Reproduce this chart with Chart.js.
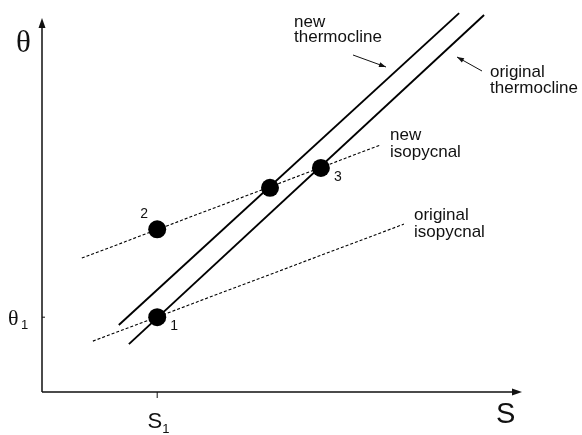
<!DOCTYPE html>
<html>
<head>
<meta charset="utf-8">
<script src="https://cdn.jsdelivr.net/npm/chart.js@4.4.0/dist/chart.umd.min.js"></script>
<style>
  html, body { margin: 0; padding: 0; background: #fff; }
</style>
</head>
<body>
<canvas id="tsChart" width="582" height="435"></canvas>
<script>
// points 1, 2, (unlabelled mid point), 3
const pointS = [2.4, 2.4, 4.75, 5.81];
const pointTheta = [2.0, 4.35, 5.46, 5.99];
const pointNames = ['1', '2', '', '3'];

const origThermoS = [1.81, 9.21];
const origThermoTheta = [1.28, 10.08];
const newThermoS = [1.60, 8.69];
const newThermoTheta = [1.79, 10.13];

const origIsoS = [1.06, 7.54];
const origIsoTheta = [1.36, 4.49];
const newIsoS = [0.83, 7.04];
const newIsoTheta = [3.58, 6.60];

const xTickValues = [2.4];
const xTickNames = ['S'];
const xTickSubs = ['1'];
const yTickValues = [2.0];
const yTickNames = ['θ'];
const yTickSubs = ['1'];

const toXY = (xs, ys) => xs.map((x, i) => ({ x: x, y: ys[i] }));

const SANS = '"Liberation Sans", Arial, Helvetica, sans-serif';
const SERIF = '"Liberation Serif", "Times New Roman", serif';

function arrowHead(ctx, x0, y0, x1, y1, len, half) {
    const a = Math.atan2(y1 - y0, x1 - x0);
    ctx.beginPath();
    ctx.moveTo(x1, y1);
    ctx.lineTo(x1 - len * Math.cos(a) + half * Math.sin(a), y1 - len * Math.sin(a) - half * Math.cos(a));
    ctx.lineTo(x1 - len * Math.cos(a) - half * Math.sin(a), y1 - len * Math.sin(a) + half * Math.cos(a));
    ctx.closePath();
    ctx.fill();
}

function arrow(ctx, x0, y0, x1, y1) {
    ctx.beginPath();
    ctx.moveTo(x0, y0);
    ctx.lineTo(x1, y1);
    ctx.stroke();
    arrowHead(ctx, x0, y0, x1, y1, 7, 2.5);
}

// axes, ticks and all the text
const decorations = {
    id: 'decorations',
    afterDraw(chart) {
        const ctx = chart.ctx;
        const xs = chart.scales.x, ys = chart.scales.y;
        const x0 = xs.getPixelForValue(0), x1 = xs.getPixelForValue(10);
        const y0 = ys.getPixelForValue(0), y1 = ys.getPixelForValue(10);
        ctx.save();
        ctx.strokeStyle = '#111';
        ctx.fillStyle = '#111';
        ctx.lineWidth = 1.5;

        ctx.beginPath();
        ctx.moveTo(x0, y0);
        ctx.lineTo(x0, y1 + 4);
        ctx.moveTo(x0, y0);
        ctx.lineTo(x1 - 4, y0);
        ctx.stroke();
        arrowHead(ctx, x0, y0, x0, y1, 10, 3.5);
        arrowHead(ctx, x0, y0, x1, y0, 10, 3.5);

        // ticks
        ctx.lineWidth = 1;
        ctx.textBaseline = 'alphabetic';
        xTickValues.forEach((v, i) => {
            const px = xs.getPixelForValue(v);
            ctx.beginPath();
            ctx.moveTo(px, y0);
            ctx.lineTo(px, y0 + 6);
            ctx.stroke();
            ctx.font = '22px ' + SANS;
            ctx.textAlign = 'right';
            ctx.fillText(xTickNames[i], px + 5, 428);
            ctx.font = '13px ' + SANS;
            ctx.textAlign = 'left';
            ctx.fillText(xTickSubs[i], px + 5, 433);
        });
        yTickValues.forEach((v, i) => {
            const py = ys.getPixelForValue(v);
            ctx.beginPath();
            ctx.moveTo(x0, py);
            ctx.lineTo(x0 + 3, py);
            ctx.stroke();
            ctx.font = '22px ' + SERIF;
            ctx.textAlign = 'left';
            ctx.fillText(yTickNames[i], 8, py + 8);
            ctx.font = '13px ' + SANS;
            ctx.fillText(yTickSubs[i], 21, py + 12);
        });

        // axis titles
        ctx.textAlign = 'left';
        ctx.font = '31px ' + SERIF;
        ctx.fillText('θ', 16, 52);
        ctx.font = '29px ' + SANS;
        ctx.fillText('S', 496, 423);

        // point numbers
        const meta = chart.getDatasetMeta(0);
        const offs = [[17, 9], [-13, -15], [0, 0], [17, 9]];
        ctx.font = '14px ' + SANS;
        ctx.textAlign = 'center';
        ctx.textBaseline = 'middle';
        meta.data.forEach((el, i) => {
            if (!pointNames[i]) return;
            ctx.fillText(pointNames[i], el.x + offs[i][0], el.y + offs[i][1]);
        });

        // annotations
        ctx.font = '17px ' + SANS;
        ctx.textAlign = 'left';
        ctx.textBaseline = 'alphabetic';
        ctx.fillText('new', 294, 27);
        ctx.fillText('thermocline', 294, 42);
        ctx.fillText('original', 490, 77);
        ctx.fillText('thermocline', 490, 93);
        ctx.fillText('new', 390, 140);
        ctx.fillText('isopycnal', 390, 157);
        ctx.fillText('original', 414, 220);
        ctx.fillText('isopycnal', 414, 237);

        ctx.lineWidth = 1;
        arrow(ctx, 353, 55, 386, 67);
        arrow(ctx, 482, 71, 457, 57);
        ctx.restore();
    }
};

new Chart(document.getElementById('tsChart'), {
    type: 'scatter',
    data: {
        datasets: [
            {
                label: 'states',
                data: toXY(pointS, pointTheta),
                pointRadius: 9,
                pointHoverRadius: 9,
                backgroundColor: '#000',
                borderColor: '#000',
                borderWidth: 0
            },
            {
                label: 'original thermocline',
                data: toXY(origThermoS, origThermoTheta),
                showLine: true,
                pointRadius: 0,
                borderColor: '#000',
                borderWidth: 1.9,
                clip: false
            },
            {
                label: 'new thermocline',
                data: toXY(newThermoS, newThermoTheta),
                showLine: true,
                pointRadius: 0,
                borderColor: '#000',
                borderWidth: 1.9,
                clip: false
            },
            {
                label: 'original isopycnal',
                data: toXY(origIsoS, origIsoTheta),
                showLine: true,
                pointRadius: 0,
                borderColor: '#000',
                borderWidth: 1.1,
                borderDash: [3, 2]
            },
            {
                label: 'new isopycnal',
                data: toXY(newIsoS, newIsoTheta),
                showLine: true,
                pointRadius: 0,
                borderColor: '#000',
                borderWidth: 1.1,
                borderDash: [3, 2]
            }
        ]
    },
    options: {
        responsive: false,
        animation: false,
        layout: { padding: { left: 42, right: 60, top: 18, bottom: 43 } },
        plugins: {
            legend: { display: false },
            tooltip: { enabled: false }
        },
        scales: {
            x: { type: 'linear', min: 0, max: 10, display: false },
            y: { type: 'linear', min: 0, max: 10, display: false }
        }
    },
    plugins: [decorations]
});
</script>
</body>
</html>
